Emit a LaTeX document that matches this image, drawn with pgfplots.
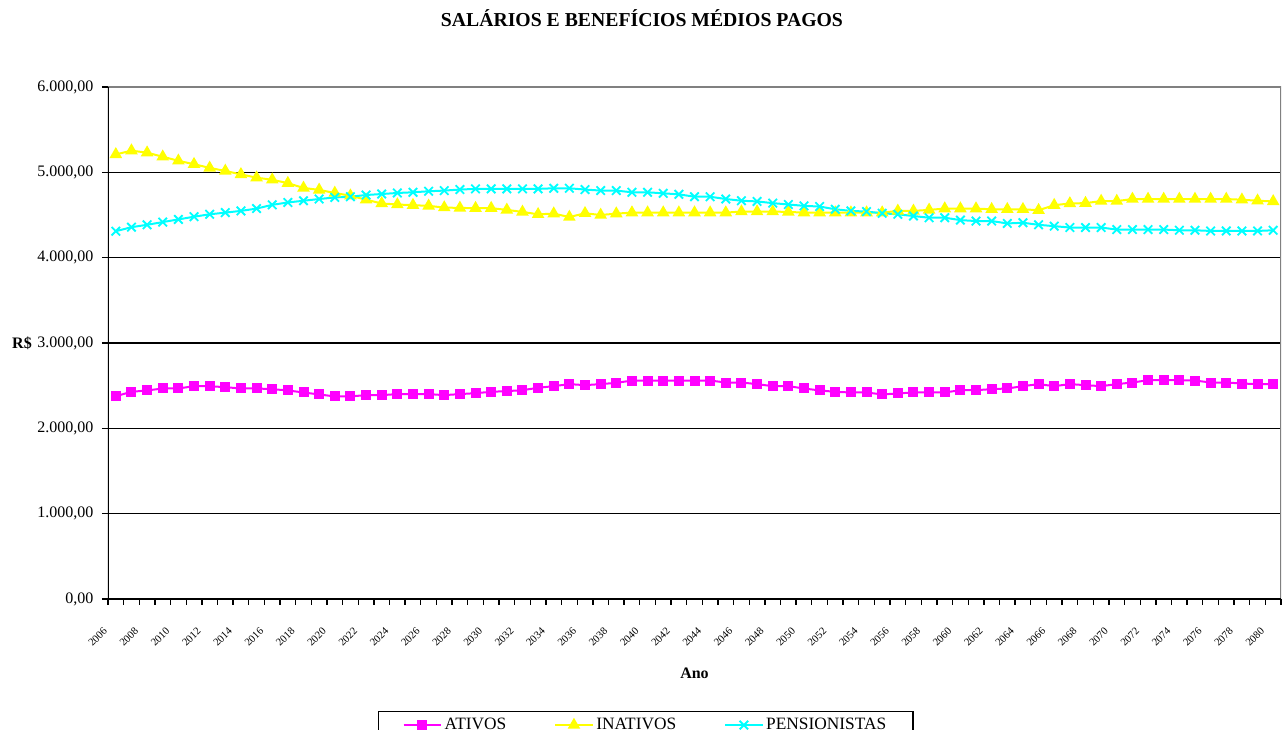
\documentclass[border=0pt]{standalone}
\usepackage{pgfplots}
\pgfplotsset{compat=1.18}
\usepackage{fontspec}
\setmainfont{Liberation Serif}
\definecolor{cMag}{RGB}{255,0,255}
\definecolor{cYel}{RGB}{255,255,0}
\definecolor{cCya}{RGB}{0,255,255}
\pgfplotstableread{
i ativ inat pens
0 2377 5210 4310
1 2428 5254 4357
2 2444 5230 4385
3 2467 5183 4417
4 2467 5135 4448
5 2494 5095 4480
6 2494 5052 4508
7 2482 5016 4528
8 2467 4976 4548
9 2467 4937 4575
10 2459 4913 4619
11 2444 4873 4647
12 2420 4817 4667
13 2397 4794 4687
14 2374 4758 4706
15 2374 4726 4714
16 2389 4679 4734
17 2389 4635 4746
18 2401 4623 4758
19 2401 4615 4766
20 2401 4607 4778
21 2389 4587 4786
22 2401 4583 4798
23 2412 4580 4806
24 2428 4580 4806
25 2436 4560 4806
26 2447 4536 4806
27 2475 4508 4806
28 2494 4516 4813
29 2518 4476 4813
30 2506 4520 4798
31 2518 4500 4786
32 2533 4516 4786
33 2560 4528 4766
34 2560 4528 4766
35 2560 4528 4754
36 2560 4528 4742
37 2560 4528 4714
38 2560 4528 4714
39 2537 4528 4687
40 2537 4540 4667
41 2518 4540 4659
42 2494 4540 4639
43 2494 4536 4623
44 2467 4528 4607
45 2444 4528 4599
46 2428 4528 4567
47 2420 4528 4548
48 2420 4528 4540
49 2397 4528 4520
50 2409 4548 4508
51 2420 4548 4488
52 2420 4560 4468
53 2420 4575 4468
54 2447 4575 4440
55 2447 4575 4429
56 2459 4567 4429
57 2467 4567 4401
58 2494 4567 4409
59 2518 4556 4385
60 2494 4615 4369
61 2518 4635 4353
62 2506 4639 4353
63 2494 4663 4353
64 2518 4663 4329
65 2537 4687 4329
66 2564 4687 4329
67 2564 4687 4329
68 2564 4687 4321
69 2560 4687 4321
70 2537 4687 4313
71 2537 4687 4313
72 2525 4679 4313
73 2518 4667 4313
74 2518 4659 4321
}\datatable
\begin{document}
\begin{tikzpicture}
\begin{axis}[
  at={(0,0)}, anchor=south west,
  scale only axis, width=879.75pt, height=384pt,
  xmin=-0.5, xmax=74.5, ymin=0, ymax=6000,
  axis line style={draw=none},
  tick align=outside, tick pos=left,
  ytick={0,1000,2000,3000,4000,5000,6000},
  yticklabels={{0,00},{1.000,00},{2.000,00},{3.000,00},{4.000,00},{5.000,00},{6.000,00}},
  yticklabel style={font=\fontsize{12}{14}\selectfont, xshift=-3pt},
  major tick length=4.5pt,
  tick style={black, line width=1pt},
  ymajorgrids, major grid style={black, line width=1.2pt},
  xtick={-0.5,0.5,...,74.5}, xticklabels={},
  extra x ticks={0,2,...,74},
  extra x tick labels={2006,2008,2010,2012,2014,2016,2018,2020,2022,2024,2026,2028,2030,2032,2034,2036,2038,2040,2042,2044,2046,2048,2050,2052,2054,2056,2058,2060,2062,2064,2066,2068,2070,2072,2074,2076,2078,2080},
  extra x tick style={major tick length=0pt, xmajorgrids=false},
  xticklabel style={rotate=45, anchor=north east, font=\fontsize{8}{9}\selectfont, inner sep=0.5pt, xshift=-21pt, yshift=-7pt},
  title={SALÁRIOS E BENEFÍCIOS MÉDIOS PAGOS},
  title style={at={(rel axis cs:0.4552,1)}, anchor=center, yshift=45.75pt, font=\fontsize{14.8}{17}\selectfont\bfseries},
  xlabel={Ano},
  xlabel style={at={(rel axis cs:0.5,0)}, anchor=center, yshift=-55.5pt, font=\fontsize{12}{14}\selectfont\bfseries},
  ylabel={R\$},
  ylabel style={rotate=-90, at={(rel axis cs:0,0.5)}, anchor=center, xshift=-64.5pt, font=\fontsize{12}{14}\selectfont\bfseries},
  legend columns=3,
  legend style={at={(rel axis cs:0,0)}, anchor=north west, xshift=202.5pt, yshift=-84pt,
    draw=black, line width=1pt, font=\fontsize{13}{15}\selectfont,
    inner xsep=18pt, inner ysep=3pt,
    /tikz/every even column/.append style={column sep=34pt}},
  legend image code/.code={\draw[mark repeat=2,mark phase=2,#1] plot coordinates {(0pt,0pt) (14pt,0pt) (28pt,0pt)};},
]
\addplot[cMag, line width=1.5pt, mark=square*, mark size=3pt, mark options={solid, fill=cMag}] table[x=i,y=ativ] {\datatable};
\addlegendentry{ATIVOS}
\addplot[cYel, line width=1.5pt, mark=triangle*, mark size=4pt, mark options={solid, fill=cYel}] table[x=i,y=inat] {\datatable};
\addlegendentry{INATIVOS}
\addplot[cCya, line width=1.5pt, mark=x, mark size=4.5pt, mark options={solid, line width=1.4pt}] table[x=i,y=pens] {\datatable};
\addlegendentry{PENSIONISTAS}
\draw[gray, line width=1pt] (rel axis cs:0,1) -- (rel axis cs:1,1) -- (rel axis cs:1,0);
\draw[black, line width=1.5pt] (rel axis cs:0,1) -- (rel axis cs:0,0) -- (rel axis cs:1,0);
\end{axis}
\pgfresetboundingbox
\path[use as bounding box] (-81pt,-98.25pt) rectangle (882pt,449.25pt);
\end{tikzpicture}
\end{document}
